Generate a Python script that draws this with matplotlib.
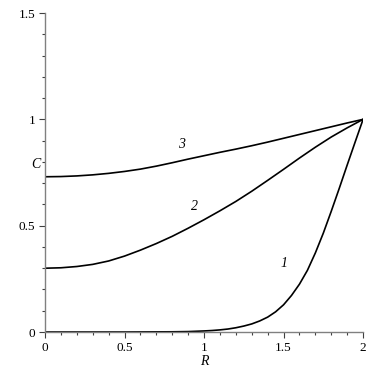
import numpy as np
import matplotlib.pyplot as plt
from matplotlib.ticker import MultipleLocator

# values
R = [0.0, 0.1, 0.2, 0.3, 0.4, 0.5, 0.6, 0.7, 0.8, 0.9, 1.0,
     1.1, 1.2, 1.3, 1.4, 1.5, 1.6, 1.7, 1.8, 1.9, 2.0]
C2 = [0.300, 0.302, 0.308, 0.318, 0.334, 0.357, 0.385, 0.416, 0.450, 0.488, 0.528,
      0.570, 0.614, 0.662, 0.713, 0.765, 0.818, 0.869, 0.917, 0.960, 1.0]
C3 = [0.730, 0.731, 0.734, 0.739, 0.746, 0.755, 0.766, 0.780, 0.796, 0.813, 0.829,
      0.845, 0.860, 0.876, 0.893, 0.911, 0.929, 0.947, 0.965, 0.983, 1.0]

R1 = [0.0, 0.5, 0.8, 0.9, 1.0, 1.05, 1.1, 1.15, 1.2, 1.25, 1.3, 1.35, 1.4, 1.45,
      1.5, 1.55, 1.6, 1.65, 1.7, 1.75, 1.8, 1.85, 1.9, 1.95, 2.0]
C1 = [0.0, 0.0, 0.001, 0.002, 0.005, 0.007, 0.010, 0.014, 0.020, 0.028, 0.038, 0.052, 0.070, 0.095,
      0.128, 0.172, 0.225, 0.290, 0.372, 0.465, 0.568, 0.675, 0.785, 0.893, 1.0]

curve_labels = ['1', '2', '3']
label_pos = [(1.50, 0.32), (0.94, 0.59), (0.86, 0.88)]

plt.rcParams['font.family'] = ['Liberation Serif', 'DejaVu Serif']

fig = plt.figure(figsize=(3.72, 3.72), dpi=100)
ax = fig.add_axes([0.121, 0.1075, 0.855, 0.8575])

ax.plot(R1, C1, color='black', lw=1.2, solid_capstyle='round')
ax.plot(R, C2, color='black', lw=1.2, solid_capstyle='round')
ax.plot(R, C3, color='black', lw=1.2, solid_capstyle='round')

for txt, (x, y) in zip(curve_labels, label_pos):
    ax.text(x, y, txt, fontsize=10, style='italic', ha='center', va='center')

ax.set_xlim(0, 2)
ax.set_ylim(0, 1.5)
ax.xaxis.set_major_locator(MultipleLocator(0.5))
ax.xaxis.set_minor_locator(MultipleLocator(0.1))
ax.yaxis.set_major_locator(MultipleLocator(0.5))
ax.yaxis.set_minor_locator(MultipleLocator(0.1))
ax.xaxis.set_major_formatter(plt.FuncFormatter(lambda v, p: f'{v:g}'))
ax.yaxis.set_major_formatter(plt.FuncFormatter(lambda v, p: f'{v:g}'))

for s in ('top', 'right'):
    ax.spines[s].set_visible(False)
for s in ('left', 'bottom'):
    ax.spines[s].set_color('#808080')
    ax.spines[s].set_linewidth(1.0)

ax.tick_params(which='major', length=4, width=0.8, color='#404040',
               labelsize=9.5, pad=3)
ax.tick_params(which='minor', length=2.5, width=0.8, color='#404040')

ax.set_xlabel('R', fontsize=10, style='italic', labelpad=1)
ax.set_ylabel('C', fontsize=10, style='italic', rotation=0, labelpad=6)
ax.yaxis.set_label_coords(-0.03, 0.505)

fig.savefig('out.png', dpi=100)
